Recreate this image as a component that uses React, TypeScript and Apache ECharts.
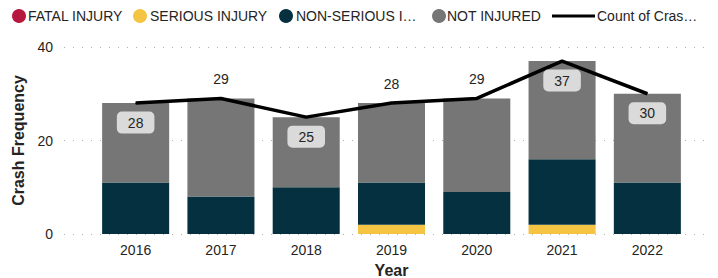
import React, { useEffect, useRef } from "react";
import * as echarts from "echarts";

const years = ["2016", "2017", "2018", "2019", "2020", "2021", "2022"];
const fatalInjury = [0, 0, 0, 0, 0, 0, 0];
const seriousInjury = [0, 0, 0, 2, 0, 2, 0];
const nonSeriousInjury = [11, 8, 10, 9, 9, 14, 11];
const notInjured = [17, 21, 15, 17, 20, 21, 19];
const crashCount = [28, 29, 25, 28, 29, 37, 30];
// label placement as in the reference: true = boxed label below the point
const boxedLabel = [true, false, true, false, false, true, true];
const yTicks = [0, 20, 40];

const legendItems = [
  { text: "FATAL INJURY", color: "#b5173f", cx: 19, tx: 28 },
  { text: "SERIOUS INJURY", color: "#f6c443", cx: 140, tx: 150 },
  { text: "NON-SERIOUS I\u2026", color: "#05303f", cx: 286, tx: 296 },
  { text: "NOT INJURED", color: "#767676", cx: 439, tx: 447 },
];

const FONT = "'Liberation Sans', Arial, sans-serif";
const TXT = "#252423";

export default function App() {
  const ref = useRef<HTMLDivElement>(null);
  useEffect(() => {
    document.body.style.margin = "0";
    if (!ref.current) return;
    const chart = echarts.init(ref.current, null, { renderer: "svg" });
    const yMax = yTicks[yTicks.length - 1];

    const graphics: any[] = [];
    legendItems.forEach((it) => {
      graphics.push({
        type: "circle",
        shape: { cx: it.cx, cy: 16, r: 7 },
        style: { fill: it.color },
      });
      graphics.push({
        type: "text",
        x: it.tx,
        y: 16,
        style: {
          text: it.text,
          fill: TXT,
          font: `14px ${FONT}`,
          verticalAlign: "middle",
          align: "left",
        },
      });
    });
    graphics.push({
      type: "line",
      shape: { x1: 552, y1: 16, x2: 595, y2: 16 },
      style: { stroke: "#000", lineWidth: 3 },
    });
    graphics.push({
      type: "text",
      x: 597,
      y: 16,
      style: {
        text: "Count of Cras\u2026",
        fill: TXT,
        font: `14px ${FONT}`,
        verticalAlign: "middle",
        align: "left",
      },
    });

    const barBase = {
      type: "bar",
      stack: "total",
      xAxisIndex: 1,
      yAxisIndex: 1,
      barWidth: "78.6%",
      emphasis: { disabled: true },
    };

    chart.setOption({
      animation: false,
      textStyle: { fontFamily: FONT },
      graphic: graphics,
      grid: [
        { left: 64, right: 8, top: 47, height: 187, outerBoundsMode: "none", containLabel: false },
        { left: 93, width: 597, top: 47, height: 187, outerBoundsMode: "none", containLabel: false },
      ],
      xAxis: [
        { type: "value", gridIndex: 0, show: false, min: 0, max: 1 },
        {
          type: "category",
          gridIndex: 1,
          data: years,
          axisLine: { show: false },
          axisTick: { show: false },
          axisLabel: { color: TXT, fontSize: 14, margin: 9, fontFamily: FONT },
          name: "Year",
          nameLocation: "middle",
          nameGap: 28,
          nameTextStyle: { color: TXT, fontSize: 16, fontWeight: "bold", fontFamily: FONT },
        },
      ],
      yAxis: [
        {
          type: "value",
          gridIndex: 0,
          min: 0,
          max: yMax,
          interval: 20,
          axisLine: { show: false },
          axisTick: { show: false },
          axisLabel: { color: TXT, fontSize: 14, margin: 11, fontFamily: FONT },
          splitLine: {
            lineStyle: { color: "#b0b0b0", type: [1, 8], width: 1 },
          },
          name: "Crash Frequency",
          nameLocation: "middle",
          nameGap: 38,
          nameRotate: 90,
          nameTextStyle: { color: TXT, fontSize: 16, fontWeight: "bold", fontFamily: FONT },
        },
        {
          type: "value",
          gridIndex: 1,
          min: 0,
          max: yMax,
          interval: 20,
          show: false,
          splitLine: { show: false },
        },
      ],
      series: [
        { ...barBase, name: "FATAL INJURY", data: fatalInjury, itemStyle: { color: "#b5173f" } },
        { ...barBase, name: "SERIOUS INJURY", data: seriousInjury, itemStyle: { color: "#f6c443" } },
        { ...barBase, name: "NON-SERIOUS INJURY", data: nonSeriousInjury, itemStyle: { color: "#05303f" } },
        { ...barBase, name: "NOT INJURED", data: notInjured, itemStyle: { color: "#767676" } },
        {
          type: "line",
          name: "Count of Crashes",
          xAxisIndex: 1,
          yAxisIndex: 1,
          z: 5,
          symbol: "circle",
          symbolSize: 1,
          itemStyle: { color: "#000" },
          lineStyle: { color: "#000", width: 3.5 },
          emphasis: { disabled: true },
          data: crashCount.map((v, i) => ({
            value: v,
            label: boxedLabel[i]
              ? {
                  show: true,
                  position: "bottom",
                  distance: 8,
                  color: TXT,
                  fontSize: 14,
                  fontFamily: FONT,
                  backgroundColor: "#dadada",
                  borderRadius: 5,
                  padding: [4, 11],
                  lineHeight: 14,
                }
              : {
                  show: true,
                  position: "top",
                  distance: 12,
                  color: TXT,
                  fontSize: 14,
                  fontFamily: FONT,
                },
          })),
        },
      ],
    });
    return () => chart.dispose();
  }, []);
  return <div ref={ref} style={{ width: 718, height: 278 }} />;
}
